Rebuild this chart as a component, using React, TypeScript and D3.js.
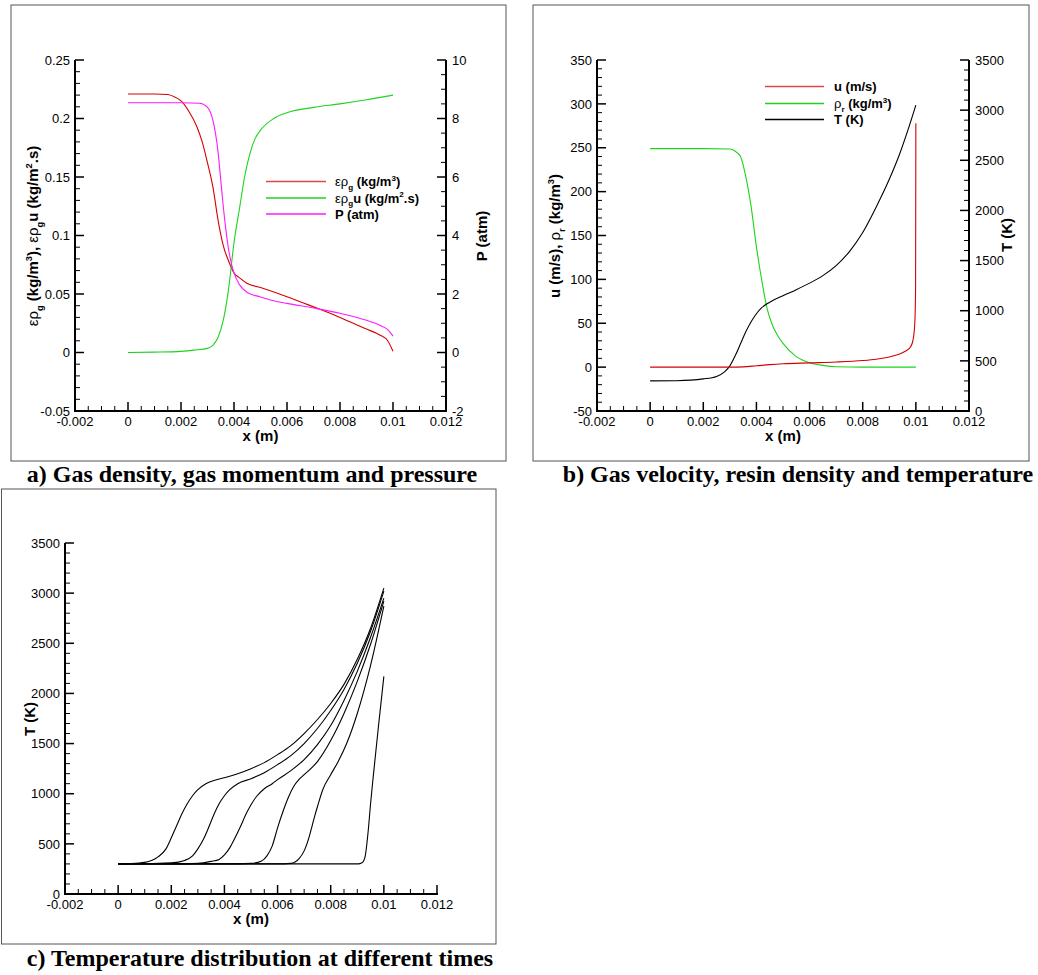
import React from "react";
import * as d3 from "d3";

// ---------- shared x axis ----------
const X_TICK_VALUES = [-0.002, 0, 0.002, 0.004, 0.006, 0.008, 0.01, 0.012];
const X_TICK_LABELS = ["-0.002", "0", "0.002", "0.004", "0.006", "0.008", "0.01", "0.012"];

// ---------- panel a ----------
const A_LEFT_TICKS = [-0.05, 0, 0.05, 0.1, 0.15, 0.2, 0.25];
const A_LEFT_LABELS = ["-0.05", "0", "0.05", "0.1", "0.15", "0.2", "0.25"];
const A_RIGHT_TICKS = [-2, 0, 2, 4, 6, 8, 10];
const A_RIGHT_LABELS = ["-2", "0", "2", "4", "6", "8", "10"];

const aRhoX = [0, 0.001, 0.0015, 0.0018, 0.002, 0.0023, 0.0026, 0.0028, 0.003, 0.0032, 0.0034, 0.0036, 0.0038, 0.004, 0.0042, 0.0045, 0.005, 0.006, 0.007, 0.008, 0.009, 0.0095, 0.0098, 0.01];
const aRhoY = [0.221, 0.221, 0.2205, 0.218, 0.215, 0.206, 0.193, 0.18, 0.162, 0.142, 0.113, 0.091, 0.078, 0.068, 0.064, 0.059, 0.0555, 0.0477, 0.039, 0.03, 0.02, 0.015, 0.01, 0.001];

const aMomX = [0, 0.001, 0.002, 0.0025, 0.003, 0.0032, 0.0034, 0.0036, 0.0038, 0.004, 0.0042, 0.0044, 0.0046, 0.0048, 0.005, 0.0055, 0.006, 0.007, 0.008, 0.009, 0.01];
const aMomY = [0, 0.0003, 0.001, 0.002, 0.0035, 0.006, 0.013, 0.028, 0.055, 0.094, 0.122, 0.15, 0.17, 0.183, 0.19, 0.2, 0.205, 0.2095, 0.2125, 0.216, 0.22];

const aPX = [0, 0.002, 0.0027, 0.003, 0.0032, 0.0033, 0.0034, 0.0035, 0.0036, 0.0037, 0.0038, 0.0039, 0.004, 0.0042, 0.0045, 0.005, 0.0055, 0.006, 0.007, 0.008, 0.009, 0.0095, 0.0098, 0.01];
const aPY = [8.54, 8.54, 8.52, 8.38, 7.95, 7.5, 6.85, 5.9, 4.95, 4.15, 3.5, 3.05, 2.72, 2.33, 2.05, 1.9, 1.77, 1.68, 1.52, 1.34, 1.1, 0.93, 0.78, 0.56];

// ---------- panel b ----------
const B_LEFT_TICKS = [-50, 0, 50, 100, 150, 200, 250, 300, 350];
const B_LEFT_LABELS = ["-50", "0", "50", "100", "150", "200", "250", "300", "350"];
const B_RIGHT_TICKS = [0, 500, 1000, 1500, 2000, 2500, 3000, 3500];
const B_RIGHT_LABELS = ["0", "500", "1000", "1500", "2000", "2500", "3000", "3500"];

const bUX = [0, 0.003, 0.0035, 0.004, 0.0045, 0.005, 0.006, 0.007, 0.008, 0.0085, 0.009, 0.0093, 0.0096, 0.0098, 0.0099, 0.00996, 0.00999, 0.01];
const bUY = [0, 0, 0.3, 1.5, 2.8, 3.8, 4.8, 5.8, 7.5, 9, 11.5, 14, 18, 23, 32, 50, 90, 278];

const bRhoX = [0, 0.002, 0.003, 0.0032, 0.0034, 0.0036, 0.0038, 0.004, 0.0042, 0.0044, 0.0046, 0.0048, 0.005, 0.0055, 0.006, 0.0065, 0.007, 0.008, 0.01];
const bRhoY = [249, 249, 248.5, 246, 240, 217, 183, 137, 99, 67, 48, 36, 27, 12, 5, 2, 0.5, 0, 0];

const bTX = [0, 0.001, 0.002, 0.0025, 0.0028, 0.003, 0.0032, 0.0034, 0.0036, 0.0038, 0.004, 0.0042, 0.0044, 0.0046, 0.005, 0.0055, 0.006, 0.0065, 0.007, 0.0075, 0.008, 0.0085, 0.009, 0.0094, 0.0097, 0.01];
const bTY = [300, 302, 320, 345, 390, 450, 550, 670, 790, 890, 970, 1030, 1070, 1100, 1150, 1210, 1275, 1350, 1450, 1590, 1780, 2030, 2310, 2570, 2800, 3050];

// ---------- panel c ----------
const C_Y_TICKS = [0, 500, 1000, 1500, 2000, 2500, 3000, 3500];
const C_Y_LABELS = ["0", "500", "1000", "1500", "2000", "2500", "3000", "3500"];

const c1X = [0, 0.0005, 0.001, 0.0015, 0.0018, 0.002, 0.0022, 0.0024, 0.0026, 0.0028, 0.003, 0.0033, 0.0037, 0.004, 0.0045, 0.005, 0.0055, 0.006, 0.0065, 0.007, 0.0075, 0.008, 0.0085, 0.009, 0.0095, 0.01];
const c1Y = [300, 303, 315, 370, 450, 560, 680, 800, 900, 980, 1040, 1100, 1140, 1160, 1200, 1250, 1310, 1390, 1480, 1600, 1740, 1900, 2090, 2340, 2650, 3050];
const c2X = [0, 0.001, 0.002, 0.0025, 0.0028, 0.003, 0.0032, 0.0034, 0.0036, 0.0038, 0.004, 0.0042, 0.0045, 0.005, 0.0055, 0.006, 0.0065, 0.007, 0.0075, 0.008, 0.0085, 0.009, 0.0095, 0.01];
const c2Y = [300, 301, 310, 335, 380, 450, 540, 660, 790, 900, 980, 1040, 1100, 1150, 1210, 1290, 1380, 1500, 1650, 1830, 2040, 2300, 2620, 3020];
const c3X = [0, 0.002, 0.003, 0.0035, 0.0038, 0.004, 0.0042, 0.0044, 0.0046, 0.0048, 0.005, 0.0052, 0.0055, 0.0058, 0.006, 0.0065, 0.007, 0.0075, 0.008, 0.0085, 0.009, 0.0095, 0.01];
const c3Y = [300, 300, 305, 325, 345, 390, 460, 560, 670, 790, 890, 970, 1050, 1100, 1140, 1230, 1340, 1490, 1680, 1930, 2220, 2560, 2950];
const c4X = [0, 0.004, 0.005, 0.0054, 0.0056, 0.0058, 0.006, 0.0062, 0.0064, 0.0066, 0.0068, 0.007, 0.0075, 0.008, 0.0085, 0.009, 0.0095, 0.01];
const c4Y = [300, 300, 305, 330, 380, 480, 660, 820, 960, 1070, 1140, 1190, 1320, 1530, 1800, 2120, 2490, 2920];
const c5X = [0, 0.006, 0.0065, 0.0068, 0.007, 0.0072, 0.0073, 0.0074, 0.0075, 0.0077, 0.008, 0.0083, 0.0086, 0.009, 0.0095, 0.01];
const c5Y = [300, 300, 305, 350, 430, 580, 680, 780, 870, 1040, 1190, 1330, 1500, 1800, 2280, 2870];
const c6X = [0, 0.009, 0.0091, 0.0092, 0.0093, 0.0094, 0.0095, 0.0096, 0.0098, 0.01];
const c6Y = [300, 300, 303, 315, 380, 600, 900, 1170, 1680, 2170];

const FONT = "'Liberation Sans', Arial, Helvetica, sans-serif";
const SERIF = "'Liberation Serif', 'Times New Roman', serif";

type Seg = { t: string; b?: boolean; s?: "sub" | "sup" };

function Rich({ x, y, segs, size, anchor = "start", transform }: { x: number; y: number; segs: Seg[]; size: number; anchor?: string; transform?: string }) {
  let shift = 0;
  const spans = segs.map((s, i) => {
    const target = s.s === "sub" ? size * 0.3 : s.s === "sup" ? -size * 0.42 : 0;
    const dy = target - shift;
    shift = target;
    return (
      <tspan key={i} dy={dy} fontWeight={s.b === false ? "normal" : "bold"} fontSize={s.s ? size * 0.62 : size}>
        {s.t}
      </tspan>
    );
  });
  return (
    <text x={x} y={y} fontFamily={FONT} fontSize={size} textAnchor={anchor} transform={transform} fill="#000">
      {spans}
    </text>
  );
}

function minorVals(domain: number[], step: number, major: number[]) {
  const n = Math.round((domain[1] - domain[0]) / step);
  const out: number[] = [];
  for (let i = 0; i <= n; i++) {
    const v = domain[0] + i * step;
    if (!major.some((m) => Math.abs(m - v) < step * 1e-3)) out.push(v);
  }
  return out;
}

const MAJ = 9;
const MIN = 5;

function YAxis({ scale, x, major, labels, minorStep, side }: { scale: d3.ScaleLinear<number, number>; x: number; major: number[]; labels: string[]; minorStep: number; side: "left" | "right" }) {
  const dir = side === "left" ? 1 : -1;
  const d = scale.domain();
  const r = scale.range();
  const minors = minorVals(d, minorStep, major);
  return (
    <g>
      <line x1={x} x2={x} y1={r[0]} y2={r[1]} stroke="#000" strokeWidth={2} />
      {major.map((v, i) => (
        <line key={"M" + i} x1={x} x2={x + dir * MAJ} y1={scale(v)} y2={scale(v)} stroke="#000" strokeWidth={1.5} />
      ))}
      {minors.map((v, i) => (
        <line key={"m" + i} x1={x} x2={x + dir * MIN} y1={scale(v)} y2={scale(v)} stroke="#000" strokeWidth={1} />
      ))}
      {major.map((v, i) => (
        <text key={"L" + i} x={side === "left" ? x - 5 : x + 6} y={scale(v)} dy="0.36em" textAnchor={side === "left" ? "end" : "start"} fontFamily={FONT} fontSize={13} fill="#000">
          {labels[i]}
        </text>
      ))}
    </g>
  );
}

function XAxis({ scale, y }: { scale: d3.ScaleLinear<number, number>; y: number }) {
  const r = scale.range();
  const minors = minorVals(scale.domain(), 0.0005, X_TICK_VALUES);
  return (
    <g>
      <line x1={r[0] - 1} x2={r[1] + 1} y1={y} y2={y} stroke="#000" strokeWidth={2} />
      {X_TICK_VALUES.map((v, i) => (
        <line key={"M" + i} x1={scale(v)} x2={scale(v)} y1={y} y2={y - MAJ} stroke="#000" strokeWidth={1.5} />
      ))}
      {minors.map((v, i) => (
        <line key={"m" + i} x1={scale(v)} x2={scale(v)} y1={y} y2={y - MIN} stroke="#000" strokeWidth={1} />
      ))}
      {X_TICK_VALUES.map((v, i) => (
        <text key={"L" + i} x={scale(v)} y={y + 15} textAnchor="middle" fontFamily={FONT} fontSize={13} fill="#000">
          {X_TICK_LABELS[i]}
        </text>
      ))}
      <text x={(r[0] + r[1]) / 2} y={y + 30} textAnchor="middle" fontFamily={FONT} fontSize={15} fontWeight="bold" fill="#000">
        x (m)
      </text>
    </g>
  );
}

function path(xs: number[], ys: number[], sx: d3.ScaleLinear<number, number>, sy: d3.ScaleLinear<number, number>) {
  const pts = xs.map((x, i) => [x, ys[i]] as [number, number]);
  return d3
    .line<[number, number]>()
    .x((p) => sx(p[0]))
    .y((p) => sy(p[1]))
    .curve(d3.curveMonotoneX)(pts) as string;
}

const RED = "#d40000";
const GREEN = "#1ed21e";
const MAGENTA = "#ff1aff";

export default function App() {
  // panel a scales
  const ax = d3.scaleLinear().domain([-0.002, 0.012]).range([75, 446]);
  const ayL = d3.scaleLinear().domain([-0.05, 0.25]).range([411, 60]);
  const ayR = d3.scaleLinear().domain([-2, 10]).range([411, 60]);
  // panel b
  const bx = d3.scaleLinear().domain([-0.002, 0.012]).range([597, 969]);
  const byL = d3.scaleLinear().domain([-50, 350]).range([411, 60]);
  const byR = d3.scaleLinear().domain([0, 3500]).range([411, 60]);
  // panel c
  const cx = d3.scaleLinear().domain([-0.002, 0.012]).range([65, 437]);
  const cy = d3.scaleLinear().domain([0, 3500]).range([894, 543]);

  const cSeries: [number[], number[]][] = [
    [c1X, c1Y],
    [c2X, c2Y],
    [c3X, c3Y],
    [c4X, c4Y],
    [c5X, c5Y],
    [c6X, c6Y],
  ];

  const legA: { color: string; segs: Seg[] }[] = [
    { color: "#e04848", segs: [{ t: "ερ", b: false }, { t: "g", s: "sub" }, { t: " (kg/m" }, { t: "3", s: "sup" }, { t: ")" }] },
    { color: GREEN, segs: [{ t: "ερ", b: false }, { t: "g", s: "sub" }, { t: "u (kg/m" }, { t: "2", s: "sup" }, { t: ".s)" }] },
    { color: MAGENTA, segs: [{ t: "P (atm)" }] },
  ];
  const legAY = [181.5, 198, 214];

  const legB: { color: string; segs: Seg[] }[] = [
    { color: "#e04848", segs: [{ t: "u (m/s)" }] },
    { color: GREEN, segs: [{ t: "ρ", b: false }, { t: "r", s: "sub" }, { t: " (kg/m" }, { t: "3", s: "sup" }, { t: ")" }] },
    { color: "#000", segs: [{ t: "T (K)" }] },
  ];
  const legBY = [86.5, 103.5, 119.5];

  return (
    <svg width={1038} height={975} style={{ position: "absolute", left: 0, top: 0, background: "#fff" }}>
      <rect x={0} y={0} width={1038} height={975} fill="#fff" />
      {/* frames */}
      <rect x={11} y={5} width={495} height={456} fill="none" stroke="#555" strokeWidth={1} />
      <rect x={533} y={5} width={496} height={456} fill="none" stroke="#555" strokeWidth={1} />
      <rect x={1.5} y={489} width={494.5} height={455} fill="none" stroke="#555" strokeWidth={1} />

      {/* ---------- panel a ---------- */}
      <g fill="none" strokeWidth={1.1}>
        <path d={path(aRhoX, aRhoY, ax, ayL)} stroke={RED} />
        <path d={path(aMomX, aMomY, ax, ayL)} stroke={GREEN} />
        <path d={path(aPX, aPY, ax, ayR)} stroke={MAGENTA} />
      </g>
      <YAxis scale={ayL} x={75} major={A_LEFT_TICKS} labels={A_LEFT_LABELS} minorStep={0.01} side="left" />
      <YAxis scale={ayR} x={446} major={A_RIGHT_TICKS} labels={A_RIGHT_LABELS} minorStep={0.5} side="right" />
      <XAxis scale={ax} y={411} />
      <Rich
        x={0}
        y={0}
        size={15}
        anchor="middle"
        transform="translate(38,236) rotate(-90)"
        segs={[
          { t: "ερ", b: false },
          { t: "g", s: "sub" },
          { t: " (kg/m" },
          { t: "3", s: "sup" },
          { t: ")," },
          { t: " ερ", b: false },
          { t: "g", s: "sub" },
          { t: "u (kg/m" },
          { t: "2", s: "sup" },
          { t: ".s)" },
        ]}
      />
      <Rich x={0} y={0} size={15} anchor="middle" transform="translate(487,236) rotate(-90)" segs={[{ t: "P (atm)" }]} />
      {legA.map((l, i) => (
        <g key={i}>
          <line x1={266} x2={326} y1={legAY[i]} y2={legAY[i]} stroke={l.color} strokeWidth={1.4} />
          <Rich x={335} y={legAY[i] + 4.5} size={13} segs={l.segs} />
        </g>
      ))}

      {/* ---------- panel b ---------- */}
      <g fill="none" strokeWidth={1.1}>
        <path d={path(bRhoX, bRhoY, bx, byL)} stroke={GREEN} />
        <path d={path(bTX, bTY, bx, byR)} stroke="#000" />
        <path d={path(bUX, bUY, bx, byL)} stroke={RED} />
      </g>
      <YAxis scale={byL} x={597} major={B_LEFT_TICKS} labels={B_LEFT_LABELS} minorStep={10} side="left" />
      <YAxis scale={byR} x={969} major={B_RIGHT_TICKS} labels={B_RIGHT_LABELS} minorStep={100} side="right" />
      <XAxis scale={bx} y={411} />
      <Rich
        x={0}
        y={0}
        size={15}
        anchor="middle"
        transform="translate(560,236) rotate(-90)"
        segs={[{ t: "u (m/s), " }, { t: "ρ", b: false }, { t: "r", s: "sub" }, { t: " (kg/m" }, { t: "3", s: "sup" }, { t: ")" }]}
      />
      <Rich x={0} y={0} size={15} anchor="middle" transform="translate(1012,235) rotate(-90)" segs={[{ t: "T (K)" }]} />
      {legB.map((l, i) => (
        <g key={i}>
          <line x1={765} x2={824} y1={legBY[i]} y2={legBY[i]} stroke={l.color} strokeWidth={1.4} />
          <Rich x={834} y={legBY[i] + 4.5} size={13} segs={l.segs} />
        </g>
      ))}

      {/* ---------- panel c ---------- */}
      <g fill="none" strokeWidth={1.1} stroke="#000">
        {cSeries.map((s, i) => (
          <path key={i} d={path(s[0], s[1], cx, cy)} />
        ))}
      </g>
      <YAxis scale={cy} x={65} major={C_Y_TICKS} labels={C_Y_LABELS} minorStep={100} side="left" />
      <XAxis scale={cx} y={894} />
      <Rich x={0} y={0} size={15} anchor="middle" transform="translate(35,719) rotate(-90)" segs={[{ t: "T (K)" }]} />

      {/* captions */}
      <text x={252} y={482} textAnchor="middle" fontFamily={SERIF} fontWeight="bold" fontSize={24} fill="#000">
        a) Gas density, gas momentum and pressure
      </text>
      <text x={798} y={482} textAnchor="middle" fontFamily={SERIF} fontWeight="bold" fontSize={24} fill="#000">
        b) Gas velocity, resin density and temperature
      </text>
      <text x={260} y={966} textAnchor="middle" fontFamily={SERIF} fontWeight="bold" fontSize={24} fill="#000">
        c) Temperature distribution at different times
      </text>
    </svg>
  );
}
